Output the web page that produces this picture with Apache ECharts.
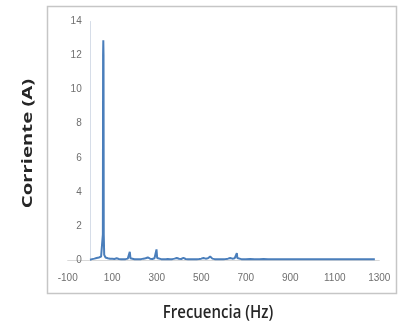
<!DOCTYPE html>
<html>
<head>
<meta charset="utf-8">
<script src="https://cdn.jsdelivr.net/npm/echarts@6/dist/echarts.min.js"></script>
<style>
  html, body { margin: 0; padding: 0; background: #ffffff; }
  #chart { width: 398px; height: 330px; }
</style>
</head>
<body>
<div id="chart"></div>
<script>
// Current spectrum: frequency (Hz) and amplitude (A)
const freqHz = [
  0, 10, 20, 30, 40, 50, 56, 58, 59, 60, 61, 62, 64, 70, 80, 90, 100, 110, 120, 130,
  140, 150, 160, 170, 178, 179, 180, 181, 182, 190, 200, 210, 220, 230, 240, 250, 260, 270, 280, 290,
  298, 299, 300, 301, 302, 310, 320, 330, 340, 350, 360, 370, 380, 390, 400, 410, 420, 430, 440, 450,
  460, 470, 480, 490, 500, 510, 520, 530, 540, 550, 560, 570, 580, 590, 600, 610, 620, 630, 640, 650,
  658, 660, 662, 670, 680, 690, 700, 720, 740, 760, 780, 800, 820, 840, 860, 880, 900, 920, 940, 960,
  980, 1000, 1020, 1040, 1060, 1080, 1100, 1120, 1140, 1160, 1180, 1200, 1220, 1240, 1260, 1280
];
const currentA = [
  0.02, 0.05, 0.08, 0.12, 0.15, 0.2, 0.3, 1.5, 12.0, 12.9, 12.0, 1.5, 0.3, 0.15, 0.1, 0.08, 0.07, 0.06, 0.1, 0.06,
  0.05, 0.05, 0.05, 0.08, 0.1, 0.48, 0.5, 0.48, 0.1, 0.06, 0.05, 0.05, 0.04, 0.05, 0.08, 0.1, 0.15, 0.08, 0.06, 0.1,
  0.12, 0.62, 0.65, 0.62, 0.12, 0.07, 0.05, 0.05, 0.05, 0.06, 0.05, 0.05, 0.08, 0.12, 0.07, 0.06, 0.12, 0.06, 0.05, 0.05,
  0.04, 0.05, 0.05, 0.06, 0.08, 0.12, 0.08, 0.1, 0.2, 0.08, 0.05, 0.05, 0.04, 0.05, 0.05, 0.06, 0.08, 0.12, 0.08, 0.1,
  0.12, 0.4, 0.12, 0.08, 0.05, 0.05, 0.05, 0.06, 0.05, 0.05, 0.06, 0.05, 0.05, 0.04, 0.05, 0.05, 0.05, 0.04, 0.05, 0.05,
  0.04, 0.05, 0.05, 0.04, 0.05, 0.05, 0.04, 0.05, 0.05, 0.04, 0.05, 0.04, 0.05, 0.04, 0.04, 0.04
];
const xTitle = 'Frecuencia (Hz)';
const yTitle = 'Corriente (A)';

const chart = echarts.init(document.getElementById('chart'), null, { renderer: 'canvas' });

const labelStyle = { color: '#6f6f6f', fontSize: 10, fontFamily: 'Liberation Sans' };

chart.setOption({
  animation: false,
  backgroundColor: '#ffffff',
  grid: { left: 67.7, right: 18.7, top: 21.5, bottom: 70, containLabel: false },
  xAxis: {
    type: 'value',
    min: -100,
    max: 1300,
    interval: 200,
    axisLine: { show: true, lineStyle: { color: '#d9d9d9', width: 1 } },
    axisTick: { show: false },
    splitLine: { show: false },
    axisLabel: Object.assign({ margin: 13, formatter: v => String(v) }, labelStyle)
  },
  yAxis: {
    type: 'value',
    min: 0,
    max: 14,
    interval: 2,
    axisLine: { show: true, onZero: true, lineStyle: { color: '#d6dde8', width: 1 } },
    axisTick: { show: false },
    splitLine: { show: false },
    axisLabel: Object.assign({ margin: -14 }, labelStyle)
  },
  series: [{
    type: 'line',
    data: freqHz.map((f, i) => [f, currentA[i]]),
    showSymbol: false,
    lineStyle: { color: '#4a7ebb', width: 2 },
    z: 3
  }],
  graphic: [
    {
      type: 'rect',
      shape: { x: 47.5, y: 6.5, width: 349, height: 287 },
      style: { fill: 'none', stroke: '#c6c6c6', lineWidth: 1.5 },
      z: -1
    },
    {
      type: 'text',
      x: 28.5, y: 143.5,
      rotation: Math.PI / 2,
      scaleX: 1.45,
      style: {
        text: yTitle,
        fill: '#262626',
        font: 'bold 14px "Open Sans"',
        align: 'center',
        verticalAlign: 'middle'
      }
    },
    {
      type: 'text',
      x: 218, y: 313,
      scaleY: 1.15,
      style: {
        text: xTitle,
        fill: '#262626',
        font: '600 15px "Open Sans"',
        align: 'center',
        verticalAlign: 'middle'
      }
    }
  ]
});
</script>
</body>
</html>
